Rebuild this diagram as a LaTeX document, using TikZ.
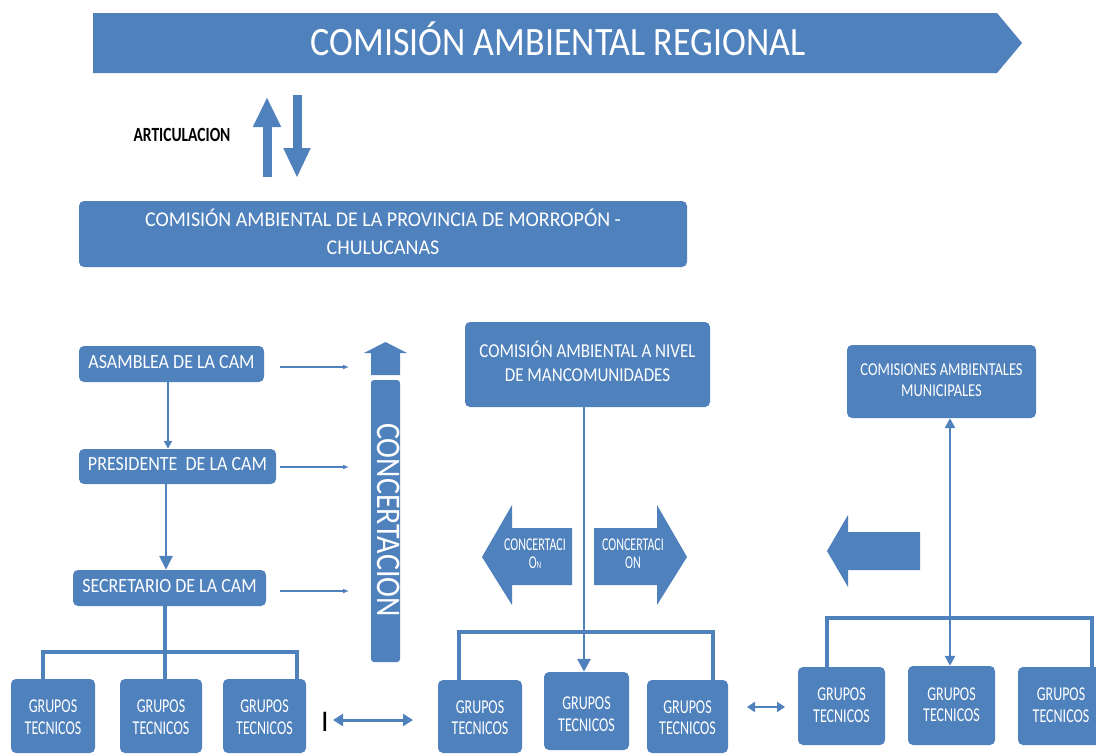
\documentclass[tikz,border=0pt]{standalone}
\usepackage{fontspec}
\usepackage{graphicx}
\setmainfont{Carlito}
\usetikzlibrary{arrows.meta}
\definecolor{cam}{RGB}{79,129,189}
% vertically stretched text, optionally lowered without changing the node size
\newcommand\vst[3][1.2]{\raisebox{#2}[\height][\depth]{\scalebox{1}[#1]{\begin{tabular}{@{}c@{}}#3\end{tabular}}}}
\begin{document}
\begin{tikzpicture}[x=1pt,y=-1pt]
\tikzset{
 box/.style={fill=cam, rounded corners=5pt, text=white, inner sep=0pt, align=center},
 grp/.style={box, font=\fontsize{14}{15.4}\selectfont},
 lbl/.style={text=white, inner sep=0pt, align=center},
 conn/.style={draw=cam, line width=3.2pt},
 thinarr/.style={draw=cam, line width=1.4pt, -{Latex[length=6pt,width=5pt]}},
}
\fill[white] (0,0) rectangle (1096,755);
\clip (0,0) rectangle (1096,755);

% banner
\fill[cam] (93,13) -- (997,13) -- (1022,43) -- (997,73) -- (93,73) -- cycle;
\node[lbl, font=\fontsize{36}{40}\selectfont] (reg) at (558,43) {\vst[1.12]{-2pt}{COMISIÓN AMBIENTAL REGIONAL}};

% articulacion
\node[inner sep=0pt, font=\fontsize{15.5}{18}\selectfont\bfseries] (art) at (182,137) {\vst[1.3]{0pt}{ARTICULACION}};
\coordinate (upA) at (267,177);
\coordinate (upB) at (267,97);
\coordinate (dnA) at (297,95);
\coordinate (dnB) at (297,178);
\draw[cam, line width=9pt, -{Triangle[length=30pt,width=26pt]}] (upA) -- (upB);
\draw[cam, line width=9pt, -{Triangle[length=30pt,width=25pt]}] (dnA) -- (dnB);

% provincia
\node[box, minimum width=608pt, minimum height=66pt, font=\fontsize{20}{26.7}\selectfont] (prov) at (383,234)
 {\vst[1.05]{-1pt}{COMISIÓN AMBIENTAL DE LA PROVINCIA DE MORROPÓN -\\CHULUCANAS}};

% left column
\node[box, minimum width=185pt, minimum height=36pt, font=\fontsize{18}{20}\selectfont] (asam) at (171.5,364) {\vst[1.12]{0pt}{ASAMBLEA DE LA CAM}};
\node[box, minimum width=197pt, minimum height=35pt, font=\fontsize{18}{20}\selectfont] (pres) at (177.5,466.5) {\vst[1.12]{0pt}{PRESIDENTE\ \ DE LA CAM}};
\node[box, minimum width=193pt, minimum height=36pt, font=\fontsize{18}{20}\selectfont] (secr) at (169.5,588) {\vst[1.12]{0pt}{SECRETARIO DE LA CAM}};

\node[grp, minimum width=84pt, minimum height=74pt] (g1) at (53,716) {\vst[1.4]{-3pt}{GRUPOS\\TECNICOS}};
\node[grp, minimum width=82pt, minimum height=74pt] (g2) at (161,716) {\vst[1.4]{-3pt}{GRUPOS\\TECNICOS}};
\node[grp, minimum width=83pt, minimum height=74pt] (g3) at (264.5,716) {\vst[1.4]{-3pt}{GRUPOS\\TECNICOS}};

\draw[conn, line width=2.6pt, -{Triangle[length=8pt,width=8pt]}] (asam.south -| 168,0) -- (pres.north -| 168,0);
\draw[conn, line width=2.6pt, -{Triangle[length=14pt,width=13pt]}] (pres.south -| 166,0) -- (secr.north -| 166,0);
\coordinate (lb) at (165,652);
\draw[conn] (secr.south -| lb) -- (lb);
\draw[conn] (g1.north -| 43,0) |- (lb) -| (g3.north -| 297,0);
\draw[conn] (lb) -- (g2.north -| lb);

% concertacion bar
\fill[cam, rounded corners=3pt] (371,380) rectangle (400,662);
\fill[cam] (371,375) -- (371,353) -- (364,353) -- (385.5,342) -- (407,353) -- (400,353) -- (400,375) -- cycle;
\node[lbl, rotate=-90, font=\fontsize{30}{32}\selectfont] (conc) at (386,520) {\vst[1.15]{0pt}{CONCERTACIÓN}};

\coordinate (t1) at (349,367);
\coordinate (t2) at (349,467);
\coordinate (t3) at (349,591);
\draw[thinarr] ([xshift=16pt]asam.east |- t1) -- (t1);
\draw[thinarr] ([xshift=4pt]pres.east |- t2) -- (t2);
\draw[thinarr] ([xshift=14pt]secr.east |- t3) -- (t3);

% cursor mark and double arrow
\node[inner sep=0pt, font=\fontsize{30}{30}\selectfont] (bar) at (325,722) {I};
\coordinate (da1) at (333,720);
\coordinate (da2) at (413,720);
\draw[conn, line width=3pt, {Triangle[length=10pt,width=12pt]}-{Triangle[length=10pt,width=12pt]}] (da1) -- (da2);

% middle
\node[box, minimum width=245pt, minimum height=85pt, font=\fontsize{17}{20.5}\selectfont] (manc) at (587.5,364.5)
 {\vst[1.16]{0pt}{COMISIÓN AMBIENTAL A NIVEL\\DE MANCOMUNIDADES}};
\node[grp, minimum width=84pt, minimum height=73pt] (mg1) at (480,716.5) {\vst[1.4]{-3pt}{GRUPOS\\TECNICOS}};
\node[grp, minimum width=85pt, minimum height=78pt] (mg2) at (586.5,711) {\vst[1.4]{-5pt}{GRUPOS\\TECNICOS}};
\node[grp, minimum width=81pt, minimum height=73pt] (mg3) at (687.5,716.5) {\vst[1.4]{-3pt}{GRUPOS\\TECNICOS}};

\coordinate (mb) at (584,632);
\draw[conn, line width=2.8pt, -{Triangle[length=13pt,width=13pt]}] (manc.south -| mb) -- (mg2.north -| mb);
\draw[conn] (mg1.north -| 459,0) |- (mb) -| (mg3.north -| 713,0);

% concertaci block arrows
\fill[cam] (572,528) -- (512,528) -- (512,505) -- (482,557) -- (512,605) -- (512,585) -- (572,585) -- cycle;
\fill[cam] (594,528) -- (657,528) -- (657,505) -- (687,557) -- (657,605) -- (657,585) -- (594,585) -- cycle;
\node[lbl, font=\fontsize{12}{12}\selectfont] (ca1) at (535,556) {\vst[1.5]{0pt}{CONCERTACI\\O{\fontsize{7}{7}\selectfont N}}};
\node[lbl, font=\fontsize{12}{12}\selectfont] (ca2) at (633,556) {\vst[1.5]{0pt}{CONCERTACI\\ON}};

\coordinate (sa1) at (747,707);
\coordinate (sa2) at (785,707);
\draw[conn, line width=2.6pt, {Triangle[length=8pt,width=10pt]}-{Triangle[length=8pt,width=10pt]}] (sa1) -- (sa2);

% right
\node[box, minimum width=189pt, minimum height=73pt, font=\fontsize{14.5}{16.8}\selectfont] (mun) at (941.5,381.5)
 {\vst[1.25]{0pt}{COMISIONES AMBIENTALES\\MUNICIPALES}};
\node[grp, minimum width=87pt, minimum height=78pt] (rg1) at (841.5,706) {\vst[1.4]{-1pt}{GRUPOS\\TECNICOS}};
\node[grp, minimum width=87pt, minimum height=79pt] (rg2) at (951.5,705.5) {\vst[1.4]{-1pt}{GRUPOS\\TECNICOS}};
\node[grp, minimum width=86pt, minimum height=78pt] (rg3) at (1061,706) {\vst[1.4]{-1pt}{GRUPOS\\TECNICOS}};

\coordinate (rb) at (950,618);
\draw[conn, line width=2.8pt, {Triangle[length=10pt,width=10pt]}-{Triangle[length=10pt,width=10pt]}] (mun.south -| rb) -- (rg2.north -| rb);
\draw[conn] (rg1.north -| 827,0) |- (rb) -| (rg3.north -| 1092,0);

\fill[cam] (920,532) -- (848,532) -- (848,515) -- (827,551) -- (848,587) -- (848,570) -- (920,570) -- cycle;
\end{tikzpicture}
\end{document}
